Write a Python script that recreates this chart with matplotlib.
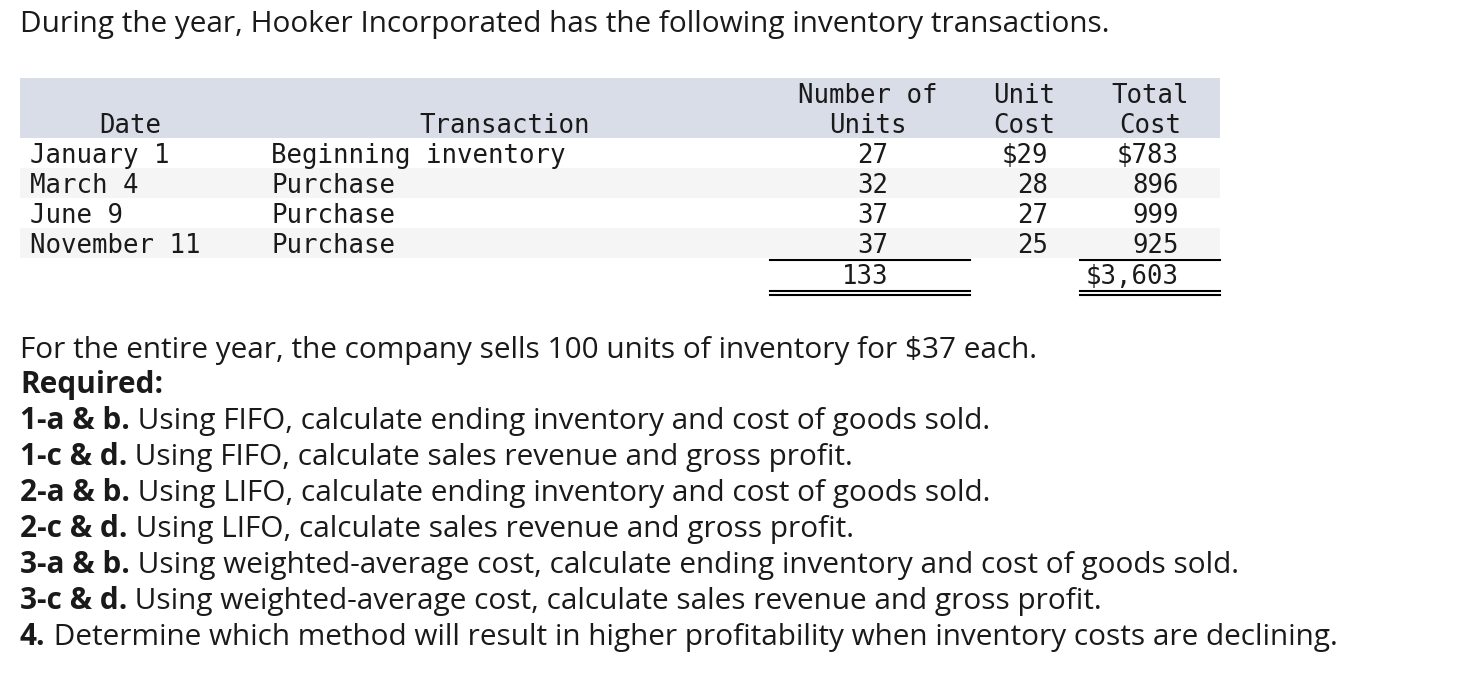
import matplotlib.pyplot as plt

dates = ['January 1', 'March 4', 'June 9', 'November 11']
transactions = ['Beginning inventory', 'Purchase', 'Purchase', 'Purchase']
units = [27, 32, 37, 37]
unit_costs = [29, 28, 27, 25]
total_costs = [783, 896, 999, 925]
total_units = 133
total_cost = 3603

intro = 'During the year, Hooker Incorporated has the following inventory transactions.'
sales_line = 'For the entire year, the company sells 100 units of inventory for $37 each.'
req_bold = ['1-a & b.', '1-c & d.', '2-a & b.', '2-c & d.', '3-a & b.', '3-c & d.', '4.']
req_text = [
    ' Using FIFO, calculate ending inventory and cost of goods sold.',
    ' Using FIFO, calculate sales revenue and gross profit.',
    ' Using LIFO, calculate ending inventory and cost of goods sold.',
    ' Using LIFO, calculate sales revenue and gross profit.',
    ' Using weighted-average cost, calculate ending inventory and cost of goods sold.',
    ' Using weighted-average cost, calculate sales revenue and gross profit.',
    ' Determine which method will result in higher profitability when inventory costs are declining.',
]

W, H = 1468, 678
fig = plt.figure(figsize=(W / 100, H / 100), dpi=100)
ax = fig.add_axes([0, 0, 1, 1])
ax.set_xlim(0, W)
ax.set_ylim(H, 0)
ax.axis('off')

sans = 'Open Sans'
mono = 'DejaVu Sans Mono'
ink = '#1a1a1a'
fs_sans = 21.4
fs_mono = 18.5

ax.text(20, 32, intro, fontsize=fs_sans, family=sans, color=ink, va='baseline')

# table background
ax.axhspan(78, 138, xmin=20 / W, xmax=1220 / W, color='#d9dde8', lw=0)
row_y = [153, 183, 213, 243]
for i, y in enumerate(row_y):
    if i % 2 == 1:
        ax.axhspan(y - 15, y + 15, xmin=20 / W, xmax=1220 / W, color='#f5f5f5', lw=0)

# header
hdr = dict(fontsize=fs_mono, family=mono, color=ink, va='center')
dy = 3
ax.text(130, 123 + dy, 'Date', ha='center', **hdr)
ax.text(590, 123 + dy, 'Transaction', ha='right', **hdr)
ax.text(868, 93 + dy, 'Number of', ha='center', **hdr)
ax.text(868, 123 + dy, 'Units', ha='center', **hdr)
ax.text(1024, 93 + dy, 'Unit', ha='center', **hdr)
ax.text(1024, 123 + dy, 'Cost', ha='center', **hdr)
ax.text(1150, 93 + dy, 'Total', ha='center', **hdr)
ax.text(1150, 123 + dy, 'Cost', ha='center', **hdr)

for i, y in enumerate(row_y):
    ax.text(30, y + dy, dates[i], ha='left', **hdr)
    ax.text(271, y + dy, transactions[i], ha='left', **hdr)
    ax.text(888, y + dy, str(units[i]), ha='right', **hdr)
    uc = f'${unit_costs[i]}' if i == 0 else str(unit_costs[i])
    tc = f'${total_costs[i]:,}' if i == 0 else f'{total_costs[i]:,}'
    ax.text(1048, y + dy, uc, ha='right', **hdr)
    ax.text(1179, y + dy, tc, ha='right', **hdr)

ax.text(888, 274 + dy, str(total_units), ha='right', **hdr)
ax.text(1179, 274 + dy, f'${total_cost:,}', ha='right', **hdr)

for x0, x1 in [(770, 970), (1080, 1220)]:
    ax.plot([x0, x1], [260, 260], color='black', lw=1.5)
    ax.plot([x0, x1], [290.5, 290.5], color='black', lw=1.5)
    ax.plot([x0, x1], [294.5, 294.5], color='black', lw=1.5)

# text below the table
ax.text(20, 358, sales_line, fontsize=fs_sans, family=sans, color=ink, va='baseline')
ax.text(20, 393, 'Required:', fontsize=fs_sans, family=sans, weight='bold', color=ink, va='baseline')

fig.canvas.draw()
renderer = fig.canvas.get_renderer()
inv = ax.transData.inverted()
y = 429
for b, t in zip(req_bold, req_text):
    tb = ax.text(20, y, b, fontsize=fs_sans, family=sans, weight='bold', color=ink, va='baseline')
    bb = tb.get_window_extent(renderer)
    x_end = inv.transform((bb.x1, bb.y0))[0]
    ax.text(x_end, y, t, fontsize=fs_sans, family=sans, color=ink, va='baseline')
    y += 36

fig.savefig('out.png', dpi=100)
